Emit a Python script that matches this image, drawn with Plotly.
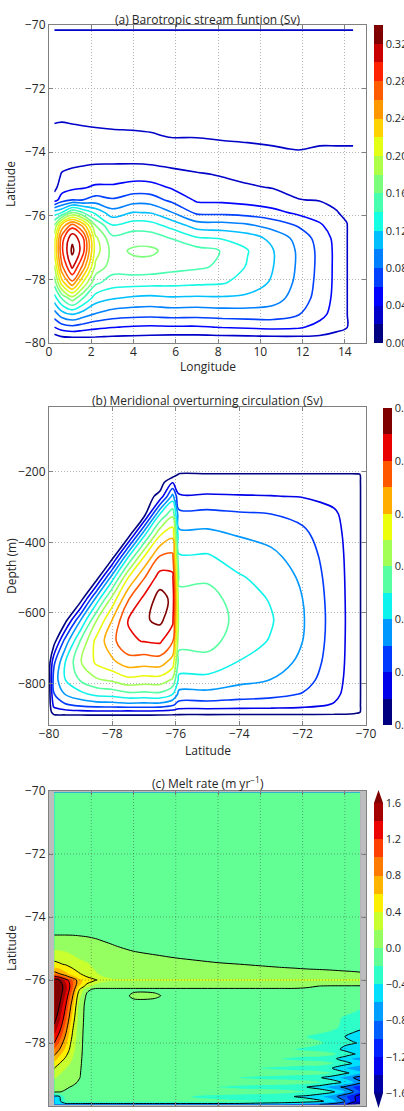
import plotly.graph_objects as go

# ------------------------------------------------------------------ data
LON_TICKS = [0, 2, 4, 6, 8, 10, 12, 14]
LAT_TICKS = [-80, -78, -76, -74, -72, -70]
DEPTH_TICKS = [-800, -600, -400, -200]
LON_RANGE = [0, 15]
LAT_RANGE = [-80, -70]
DEPTH_RANGE = [-917, -17]

TITLE_A = "(a) Barotropic stream funtion (Sv)"
TITLE_B = "(b) Meridional overturning circulation (Sv)"
TITLE_C = "(c) Melt rate (m yr<sup>\u22121</sup>)"

# (a) barotropic stream function (Sv), one list per longitude column
PSI_LON = [0.25, 0.6, 1.1, 1.6, 2.2, 3.0, 4.0, 4.8, 5.8, 7.0, 8.2, 9.4, 10.6, 11.8, 12.8, 13.6, 14.1, 14.4]
PSI_LAT = [-80.0, -79.8, -79.5, -79.1, -78.6, -78.1, -77.6, -77.1, -76.7, -76.3, -75.9,
           -75.5, -75.1, -74.7, -74.3, -73.9, -73.5, -73.0, -72.0, -71.0, -70.2, -70.0]
PSI_COLS = [
    [0, 0.013, 0.04, 0.07, 0.11, 0.148, 0.178, 0.2, 0.19, 0.16, 0.11, 0.03, 0.014, 0.013, 0.012, 0.012, 0.016, 0.021, 0.025, 0.025, 0.025, 0],
    [0, 0.02, 0.05, 0.09, 0.14, 0.21, 0.255, 0.275, 0.27, 0.225, 0.12, 0.05, 0.03, 0.021, 0.015, 0.0125, 0.016, 0.0205, 0.025, 0.025, 0.025, 0],
    [0, 0.022, 0.055, 0.1, 0.17, 0.255, 0.305, 0.325, 0.315, 0.27, 0.16, 0.06, 0.035, 0.024, 0.016, 0.013, 0.0165, 0.021, 0.025, 0.025, 0.025, 0],
    [0, 0.022, 0.05, 0.09, 0.14, 0.2, 0.255, 0.29, 0.285, 0.235, 0.14, 0.06, 0.038, 0.026, 0.017, 0.0135, 0.017, 0.0215, 0.025, 0.025, 0.025, 0],
    [0, 0.021, 0.045, 0.078, 0.11, 0.145, 0.175, 0.19, 0.185, 0.16, 0.115, 0.068, 0.043, 0.028, 0.018, 0.014, 0.0175, 0.022, 0.025, 0.025, 0.025, 0],
    [0, 0.019, 0.041, 0.07, 0.101, 0.13, 0.15, 0.153, 0.145, 0.121, 0.088, 0.062, 0.043, 0.029, 0.018, 0.0145, 0.018, 0.0225, 0.025, 0.025, 0.025, 0],
    [0, 0.018, 0.038, 0.067, 0.096, 0.128, 0.153, 0.163, 0.152, 0.13, 0.101, 0.071, 0.048, 0.031, 0.018, 0.0145, 0.0185, 0.0225, 0.025, 0.025, 0.025, 0],
    [0, 0.017, 0.037, 0.066, 0.094, 0.127, 0.152, 0.164, 0.151, 0.128, 0.099, 0.07, 0.047, 0.03, 0.017, 0.0145, 0.019, 0.023, 0.025, 0.025, 0.025, 0],
    [0, 0.016, 0.038, 0.068, 0.097, 0.126, 0.147, 0.153, 0.139, 0.113, 0.081, 0.055, 0.038, 0.024, 0.016, 0.0155, 0.0205, 0.0235, 0.025, 0.025, 0.025, 0],
    [0, 0.016, 0.038, 0.067, 0.096, 0.124, 0.143, 0.148, 0.122, 0.09, 0.056, 0.037, 0.028, 0.0215, 0.013, 0.016, 0.0205, 0.024, 0.025, 0.025, 0.025, 0],
    [0, 0.017, 0.041, 0.069, 0.097, 0.122, 0.137, 0.139, 0.118, 0.088, 0.055, 0.036, 0.024, 0.019, 0.013, 0.017, 0.0215, 0.025, 0.025, 0.025, 0.025, 0],
    [0, 0.018, 0.043, 0.07, 0.095, 0.112, 0.118, 0.121, 0.11, 0.083, 0.052, 0.033, 0.022, 0.015, 0.013, 0.018, 0.022, 0.025, 0.025, 0.025, 0.025, 0],
    [0, 0.019, 0.045, 0.07, 0.088, 0.097, 0.1005, 0.101, 0.094, 0.072, 0.046, 0.028, 0.019, 0.014, 0.014, 0.019, 0.023, 0.025, 0.025, 0.025, 0.025, 0],
    [0, 0.019, 0.043, 0.061, 0.071, 0.075, 0.077, 0.077, 0.073, 0.058, 0.036, 0.0205, 0.015, 0.013, 0.014, 0.0205, 0.023, 0.025, 0.025, 0.025, 0.025, 0],
    [0, 0.018, 0.034, 0.046, 0.052, 0.054, 0.055, 0.055, 0.052, 0.043, 0.03, 0.019, 0.014, 0.012, 0.013, 0.019, 0.023, 0.025, 0.025, 0.025, 0.025, 0],
    [0, 0.014, 0.026, 0.032, 0.034, 0.035, 0.035, 0.035, 0.034, 0.029, 0.021, 0.016, 0.013, 0.012, 0.013, 0.019, 0.023, 0.025, 0.025, 0.025, 0.025, 0],
    [0, 0.012, 0.021, 0.021, 0.021, 0.021, 0.021, 0.021, 0.021, 0.021, 0.016, 0.012, 0.011, 0.011, 0.013, 0.019, 0.023, 0.025, 0.025, 0.025, 0.025, 0],
    [0, 0, 0, 0, 0, 0, 0, 0, 0, 0, 0, 0, 0, 0, 0.012, 0.019, 0.023, 0.025, 0.025, 0.025, 0.025, 0],
]
PSI_LEVELS = dict(start=0.02, end=0.32, size=0.02)
PSI_BAR_RANGE = [0.0, 0.34]
PSI_BAR_STEP = 0.02
PSI_BAR_TICKS = [0.0, 0.04, 0.08, 0.12, 0.16, 0.20, 0.24, 0.28, 0.32]

# (b) meridional overturning circulation (Sv); O marks points outside the cavity
O = -0.005
MOC_LAT = [-80.0, -79.85, -79.5, -79.0, -78.5, -78.0, -77.5, -77.0, -76.5, -76.1,
           -75.9, -75.0, -74.0, -73.0, -72.0, -71.0, -70.5, -70.3, -70.2, -70.0]
MOC_DEPTH = [-917, -895, -880, -860, -830, -790, -740, -680, -620, -560,
             -500, -440, -380, -320, -270, -230, -208, -195, -17]
MOC_ROWS = [
    [O] * 20,
    [O] * 20,
    [O, 0.0048, 0.0063, 0.0072, 0.0076, 0.0075, 0.0072, 0.0076, 0.007, 0.0059, 0.005, 0.005, 0.0049, 0.0048, 0.0047, 0.0041, 0.0032, 0.0017, 0.0007, O],
    [O, 0.0125, 0.0185, 0.0228, 0.025, 0.0255, 0.0268, 0.0262, 0.0261, 0.0216, 0.016, 0.016, 0.0151, 0.0145, 0.013, 0.0093, 0.0056, 0.0022, 0.0007, O],
    [O, 0.0194, 0.030, 0.0372, 0.0426, 0.044, 0.0474, 0.0469, 0.0476, 0.040, 0.027, 0.027, 0.0246, 0.0229, 0.0194, 0.0122, 0.0065, 0.0024, 0.0008, O],
    [O, 0.024, 0.0395, 0.051, 0.0585, 0.0616, 0.067, 0.0654, 0.0655, 0.0583, 0.037, 0.037, 0.0327, 0.0298, 0.0241, 0.0138, 0.007, 0.0024, 0.0008, O],
    [O, 0.0178, 0.0395, 0.0594, 0.0718, 0.0779, 0.085, 0.0839, 0.0847, 0.0751, 0.046, 0.046, 0.0395, 0.0353, 0.0276, 0.0149, 0.0073, 0.0025, 0.0008, O],
    [O, O, 0.0237, 0.0513, 0.0733, 0.0871, 0.0989, 0.1003, 0.1015, 0.0907, 0.053, 0.054, 0.0445, 0.0393, 0.030, 0.0156, 0.0074, 0.0025, 0.0008, O],
    [O, O, O, 0.030, 0.0597, 0.0805, 0.1004, 0.1085, 0.1125, 0.1026, 0.056, 0.057, 0.0466, 0.0409, 0.0309, 0.0158, 0.0075, 0.0025, 0.0008, O],
    [O, O, O, O, 0.0342, 0.0638, 0.0891, 0.1025, 0.1143, 0.1075, 0.053, 0.055, 0.0445, 0.0393, 0.030, 0.0156, 0.0074, 0.0025, 0.0008, O],
    [O, O, O, O, O, 0.036, 0.070, 0.0894, 0.1044, 0.1026, 0.048, 0.048, 0.041, 0.0365, 0.0283, 0.0151, 0.0073, 0.0025, 0.0008, O],
    [O, O, O, O, O, O, 0.0391, 0.0698, 0.0905, 0.0923, 0.041, 0.041, 0.0357, 0.0323, 0.0257, 0.0144, 0.0071, 0.0024, 0.0008, O],
    [O, O, O, O, O, O, O, 0.0387, 0.0696, 0.0778, 0.033, 0.033, 0.0295, 0.0271, 0.0223, 0.0132, 0.0068, 0.0024, 0.0008, O],
    [O] * 8 + [0.040, 0.0572, 0.023, 0.023, 0.0212, 0.020, 0.0172, 0.0113, 0.0063, 0.0023, 0.0008, O],
    [O] * 8 + [0.003, 0.0335, 0.011, 0.011, 0.0106, 0.0103, 0.0095, 0.0073, 0.0048, 0.0021, 0.0008, O],
    [O] * 9 + [0.0092, 0.005, 0.005, 0.0049, 0.0048, 0.0047, 0.0041, 0.0032, 0.0017, 0.0007, O],
    [O] * 10 + [0.001, 0.001, 0.001, 0.001, 0.001, 0.001, 0.0009, 0.0007, 0.0004, O],
    [O] * 20,
    [O] * 20,
]
MOC_LEVELS = dict(start=0.0, end=0.11, size=0.01)
MOC_BAR_RANGE = [0.0, 0.12]
MOC_BAR_STEP = 0.01
MOC_BAR_TICKS = [0.0, 0.02, 0.04, 0.06, 0.08, 0.10, 0.12]

# (c) melt rate (m/yr); rows by latitude, columns by longitude
MELT_LON = [0.25, 0.5, 0.8, 1.1, 1.4, 1.8, 2.2, 2.6, 3.0, 3.4, 4.0, 5.0, 6.0,
            7.0, 8.0, 9.0, 10.0, 11.0, 11.6, 12.2, 12.8, 13.4, 14.0, 14.4, 14.72]
MELT_LAT = [-79.95, -79.85, -79.7, -79.55, -79.4, -79.25, -79.1, -78.95, -78.8, -78.65,
            -78.5, -78.35, -78.2, -78.0, -77.8, -77.5, -77.2, -76.8, -76.5, -76.3,
            -76.2, -76.1, -76.0, -75.9, -75.8, -75.5, -75.2, -74.9, -74.6, -74.3,
            -73.5, -72.0, -70.05]
MELT_ROWS = [
    [-0.5] * 9 + [-0.5] * 4 + [-0.5, -0.5, -0.5, -0.55, -0.6, -0.65, -0.7, -0.8, -0.9, -1.1, -1.5, -1.8],
    [-0.5, -0.45, -0.15, -0.15, -0.15, -0.15, -0.15, -0.15, -0.15] + [-0.15] * 4 + [-0.15, -0.15, -0.18, -0.2, -0.22, -0.25, -0.3, -0.35, -0.5, -0.8, -1.1, -1.4],
    [-0.45, -0.42, -0.1, -0.1, -0.1, -0.1, -0.1, -0.1, -0.1] + [-0.1, -0.1, -0.1, -0.14] + [-0.22, -0.25, -0.28, -0.3, -0.34, -0.4, -0.45, -0.55, -0.7, -0.95, -1.15, -1.35],
    [0.02, 0.01, -0.03, -0.06, -0.1, -0.1, -0.1, -0.1, -0.1] + [-0.1] * 4 + [-0.1, -0.1, -0.1, -0.1, -0.12, -0.15, -0.2, -0.25, -0.35, -0.6, -0.8, -1.0],
    [0.1, 0.07, 0.03, -0.02, -0.08, -0.1, -0.1, -0.1, -0.1] + [-0.1] * 4 + [-0.12, -0.2, -0.24, -0.27, -0.3, -0.33, -0.4, -0.5, -0.7, -0.85, -1.0, -1.1],
    [0.16, 0.12, 0.09, 0.06, -0.02, -0.1, -0.1, -0.1, -0.1] + [-0.1] * 4 + [-0.1] * 6 + [-0.12, -0.18, -0.28, -0.45, -0.6, -0.75],
    [0.22, 0.16, 0.12, 0.09, 0.02, -0.1, -0.1, -0.1, -0.1] + [-0.1] * 4 + [-0.1, -0.12, -0.2, -0.24, -0.27, -0.3, -0.33, -0.38, -0.5, -0.65, -0.8, -0.9],
    [0.3, 0.22, 0.15, 0.11, 0.03, -0.1, -0.1, -0.1, -0.1] + [-0.1] * 4 + [-0.1] * 7 + [-0.12, -0.2, -0.35, -0.45, -0.55],
    [0.4, 0.3, 0.2, 0.13, 0.04, -0.1, -0.1, -0.1, -0.1] + [-0.1] * 4 + [-0.1, -0.1, -0.12, -0.2, -0.24, -0.27, -0.3, -0.33, -0.4, -0.58, -0.68, -0.72],
    [0.55, 0.4, 0.28, 0.16, 0.05, -0.1, -0.1, -0.1, -0.1] + [-0.1] * 4 + [-0.1] * 8 + [-0.18, -0.32, -0.42, -0.5],
    [0.7, 0.52, 0.36, 0.2, 0.06, -0.1, -0.1, -0.1, -0.1] + [-0.1] * 4 + [-0.1, -0.1, -0.1, -0.12, -0.2, -0.24, -0.27, -0.3, -0.35, -0.5, -0.62, -0.65],
    [0.85, 0.66, 0.45, 0.24, 0.07, -0.1, -0.1, -0.1, -0.1] + [-0.1] * 4 + [-0.1] * 8 + [-0.15, -0.3, -0.38, -0.45],
    [1.0, 0.8, 0.55, 0.28, 0.08, -0.1, -0.1, -0.1, -0.1] + [-0.1] * 4 + [-0.1] * 4 + [-0.12, -0.2, -0.24, -0.27, -0.32, -0.45, -0.55, -0.6],
    [1.2, 0.95, 0.65, 0.32, 0.09, -0.1, -0.1, -0.1, -0.1] + [-0.1] * 4 + [-0.1] * 6 + [-0.12, -0.18, -0.24, -0.36, -0.38, -0.42],
    [1.35, 1.1, 0.75, 0.38, 0.1, -0.1, -0.1, -0.1, -0.1] + [-0.1] * 4 + [-0.1] * 5 + [-0.12, -0.2, -0.24, -0.28, -0.4, -0.48, -0.52],
    [1.55, 1.3, 0.9, 0.45, 0.12, -0.1, -0.1, -0.1, -0.1] + [-0.1] * 4 + [-0.1] * 7 + [-0.12, -0.16, -0.24, -0.3, -0.35],
    [1.7, 1.45, 1.05, 0.55, 0.15, -0.1, -0.1, -0.1, -0.1] + [-0.1] * 4 + [-0.1] * 8 + [-0.15, -0.22, -0.26, -0.3],
    [1.8, 1.6, 1.2, 0.7, 0.2, -0.1, -0.1, -0.1, -0.1] + [-0.1] * 4 + [-0.1] * 10 + [-0.12, -0.15],
    [1.85, 1.7, 1.35, 0.85, 0.3, -0.05, -0.1, -0.1, -0.1] + [-0.1, 0.05, 0.04, -0.1] + [-0.1] * 12,
    [1.9, 1.75, 1.45, 1.0, 0.45, 0.05, -0.05, -0.05, -0.05] + [-0.05] * 4 + [-0.05] * 12,
    [1.9, 1.75, 1.45, 1.05, 0.6, 0.3, 0.12, 0.1, 0.1] + [0.1] * 4 + [0.1, 0.1, 0.1, 0.1, 0.1, 0.1, 0.04, -0.01, -0.02, -0.02, -0.02, -0.02],
    [1.85, 1.7, 1.4, 1.05, 0.7, 0.42, 0.25, 0.12, 0.1] + [0.1] * 4 + [0.1] * 12,
    [1.75, 1.6, 1.3, 1.0, 0.7, 0.45, 0.42, 0.3, 0.25] + [0.25] * 4 + [0.25] * 12,
    [1.3, 1.15, 0.9, 0.7, 0.5, 0.4, 0.3, 0.2, 0.12] + [0.1] * 4 + [0.1] * 12,
    [0.9, 0.8, 0.65, 0.5, 0.42, 0.33, 0.22, 0.15, 0.1] + [0.1] * 4 + [0.1] * 7 + [0.08, 0.06, 0.04, 0.03, 0.02],
    [0.45, 0.42, 0.38, 0.33, 0.28, 0.22, 0.15, 0.1, 0.1] + [0.1] * 4 + [0.07, 0.02, 0.001, -0.02, -0.05, -0.07, -0.1, -0.1, -0.1, -0.1, -0.1, -0.1],
    [0.3, 0.28, 0.25, 0.2, 0.15, 0.12, 0.1, 0.1, 0.1] + [0.1, 0.06, 0.001, -0.05] + [-0.1] * 12,
    [0.1, 0.1, 0.1, 0.1, 0.1, 0.1, 0.1, 0.07, 0.01] + [-0.03, -0.1, -0.1, -0.1] + [-0.1] * 12,
    [0.01, 0.01, 0.01, 0.008, 0.002, -0.01, -0.04, -0.1, -0.1] + [-0.1] * 4 + [-0.1] * 12,
    [-0.1] * 25,
    [-0.1] * 25,
    [-0.1] * 25,
    [-0.1] * 25,
]
MELT_FILL_LEVELS = dict(start=-1.6, end=1.6, size=0.2)
MELT_LINE_LEVELS = dict(start=-1.2, end=1.6, size=0.4)
MELT_BAR_TICKS = [-1.6, -1.2, -0.8, -0.4, 0.0, 0.4, 0.8, 1.2, 1.6]

assert all(len(c) == len(PSI_LAT) for c in PSI_COLS) and len(PSI_COLS) == len(PSI_LON)
assert all(len(r) == len(MOC_LAT) for r in MOC_ROWS) and len(MOC_ROWS) == len(MOC_DEPTH)
assert all(len(r) == len(MELT_LON) for r in MELT_ROWS) and len(MELT_ROWS) == len(MELT_LAT)

# ------------------------------------------------------------------ colours
JET_R = [(0.0, 0.0), (0.35, 0.0), (0.66, 1.0), (0.89, 1.0), (1.0, 0.5)]
JET_G = [(0.0, 0.0), (0.125, 0.0), (0.375, 1.0), (0.64, 1.0), (0.91, 0.0), (1.0, 0.0)]
JET_B = [(0.0, 0.5), (0.11, 1.0), (0.34, 1.0), (0.65, 0.0), (1.0, 0.0)]


def _seg(pts, x):
    for (x0, y0), (x1, y1) in zip(pts[:-1], pts[1:]):
        if x <= x1:
            return y0 + (y1 - y0) * (x - x0) / (x1 - x0)
    return pts[-1][1]


def jet(x):
    x = min(max(x, 0.0), 1.0)
    return "rgb(%d,%d,%d)" % tuple(round(255 * _seg(s, x)) for s in (JET_R, JET_G, JET_B))


def band_scale(edges, colors):
    lo, hi = edges[0], edges[-1]
    cs = []
    for a, b, c in zip(edges[:-1], edges[1:], colors):
        cs.append([(a - lo) / (hi - lo), c])
        cs.append([(b - lo) / (hi - lo), c])
    cs[-1][0] = 1.0
    return cs


def even_edges(lo, hi, step):
    n = int(round((hi - lo) / step))
    return [lo + k * step for k in range(n + 1)]


# (a) line colours: level L -> jet(L / 0.32)
psi_line_scale = []
for i in range(33):
    p = i / 32
    lev = PSI_LEVELS["start"] + p * (PSI_LEVELS["end"] - PSI_LEVELS["start"])
    psi_line_scale.append([p, jet(lev / PSI_LEVELS["end"])])
psi_edges = even_edges(PSI_BAR_RANGE[0], PSI_BAR_RANGE[1], PSI_BAR_STEP)
psi_bar_scale = band_scale(psi_edges, [jet(k / (len(psi_edges) - 2)) for k in range(len(psi_edges) - 1)])

# (b)
moc_line_scale = [[i / 32, jet(i / 32)] for i in range(33)]
moc_edges = even_edges(MOC_BAR_RANGE[0], MOC_BAR_RANGE[1], MOC_BAR_STEP)
moc_bar_scale = band_scale(moc_edges, [jet(k / (len(moc_edges) - 2)) for k in range(len(moc_edges) - 1)])

# (c) filled bands: band [a, a+0.2] coloured at its centre, extensions at the ends
s0, s1, ds = MELT_FILL_LEVELS["start"], MELT_FILL_LEVELS["end"], MELT_FILL_LEVELS["size"]
nlev = int(round((s1 - s0) / ds)) + 1
melt_fill_scale = []
for k in range(nlev + 1):
    v = s0 - ds / 2 + k * ds
    melt_fill_scale.append([k / nlev, jet((v - s0) / (s1 - s0))])
melt_edges = even_edges(s0, s1, ds)
melt_colors = [jet((0.5 * (a + b) - s0) / (s1 - s0)) for a, b in zip(melt_edges[:-1], melt_edges[1:])]
melt_bar_scale = band_scale(melt_edges, melt_colors)

# ------------------------------------------------------------------ layout helpers
W_PX, H_PX = 404, 1111


def fx(p):
    return p / W_PX


def fy(p):
    return 1 - p / H_PX


PLOT_L, PLOT_R = 49, 366
PANEL_A = (25, 343)
PANEL_B = (407, 725)
PANEL_C = (791, 1106)
TEXT = "#262626"
FRAME = "#808080"
FS = 12      # axis / title text
FS_BAR = 11  # colour-bar labels

axis_common = dict(
    showline=True, linecolor=FRAME, linewidth=1, mirror="ticks",
    ticks="inside", ticklen=4, tickcolor=FRAME,
    showgrid=True, gridcolor="#b4b4b4", griddash="1px,2px", gridwidth=1,
    zeroline=False, tickfont=dict(size=FS, color=TEXT), automargin=False,
)
xaxis_close = dict(axis_common, ticklabelstandoff=-2)

fig = go.Figure()

# (a)
psi_z = [list(r) for r in zip(*PSI_COLS)]
fig.add_trace(go.Contour(
    x=PSI_LON, y=PSI_LAT, z=psi_z, xaxis="x", yaxis="y",
    autocontour=False, contours=dict(coloring="lines", **PSI_LEVELS),
    colorscale=psi_line_scale, showscale=False,
    line=dict(width=1.6, smoothing=1.0), hoverinfo="skip",
))


def bar_trace(xa, ya, lo, hi, scale, ticks, fmt, x_px, top, bot):
    return go.Scatter(
        x=[None], y=[None], xaxis=xa, yaxis=ya, mode="markers",
        showlegend=False, hoverinfo="skip",
        marker=dict(color=[lo], cmin=lo, cmax=hi, colorscale=scale, showscale=True,
                    colorbar=dict(x=fx(x_px), xanchor="left", xpad=0,
                                  y=fy((top + bot) / 2), yanchor="middle", ypad=0,
                                  len=(bot - top) / H_PX, lenmode="fraction",
                                  thickness=9, thicknessmode="pixels", outlinewidth=0,
                                  tickvals=ticks, tickformat=fmt, ticks="",
                                  tickfont=dict(size=FS_BAR, color=TEXT))),
    )


fig.add_trace(bar_trace("x", "y", PSI_BAR_RANGE[0], PSI_BAR_RANGE[1], psi_bar_scale,
                        PSI_BAR_TICKS, ".2f", 374, PANEL_A[0], PANEL_A[1]))

# (b)
fig.add_trace(go.Contour(
    x=MOC_LAT, y=MOC_DEPTH, z=MOC_ROWS, xaxis="x2", yaxis="y2",
    autocontour=False, contours=dict(coloring="lines", **MOC_LEVELS),
    colorscale=moc_line_scale, showscale=False,
    line=dict(width=1.6, smoothing=1.0), hoverinfo="skip",
))
fig.add_trace(bar_trace("x2", "y2", MOC_BAR_RANGE[0], MOC_BAR_RANGE[1], moc_bar_scale,
                        MOC_BAR_TICKS, ".2f", 383, PANEL_B[0] + 1, PANEL_B[1]))

# (c)
fig.add_trace(go.Contour(
    x=MELT_LON, y=MELT_LAT, z=MELT_ROWS, xaxis="x3", yaxis="y3",
    autocontour=False, contours=dict(coloring="fill", showlines=False, **MELT_FILL_LEVELS),
    colorscale=melt_fill_scale, showscale=False,
    line=dict(width=0, smoothing=0.8), hoverinfo="skip",
))
fig.add_trace(go.Contour(
    x=MELT_LON, y=MELT_LAT, z=MELT_ROWS, xaxis="x3", yaxis="y3",
    autocontour=False, contours=dict(coloring="none", **MELT_LINE_LEVELS),
    showscale=False, line=dict(width=1, color="black", smoothing=0.8), hoverinfo="skip",
))
CB_C_TOP, CB_C_BOT, CB_C_X = 803, 1093, 374
fig.add_trace(bar_trace("x3", "y3", melt_edges[0], melt_edges[-1], melt_bar_scale,
                        MELT_BAR_TICKS, ".1f", CB_C_X, CB_C_TOP, CB_C_BOT))

xdom = [fx(PLOT_L), fx(PLOT_R)]
fig.update_layout(
    width=W_PX, height=H_PX, template="none",
    margin=dict(l=0, r=0, t=0, b=0, pad=0, autoexpand=False),
    paper_bgcolor="white", plot_bgcolor="white",
    font=dict(family="Open Sans", size=FS, color=TEXT),
    showlegend=False,
    xaxis=dict(domain=xdom, anchor="y", range=LON_RANGE, tickvals=LON_TICKS, **xaxis_close),
    yaxis=dict(domain=[fy(PANEL_A[1]), fy(PANEL_A[0])], anchor="x", range=LAT_RANGE,
               tickvals=LAT_TICKS, **axis_common),
    xaxis2=dict(domain=xdom, anchor="y2", range=LAT_RANGE, tickvals=LAT_TICKS, **xaxis_close),
    yaxis2=dict(domain=[fy(PANEL_B[1]), fy(PANEL_B[0])], anchor="x2", range=DEPTH_RANGE,
                tickvals=DEPTH_TICKS, **axis_common),
    xaxis3=dict(domain=xdom, anchor="y3", range=LON_RANGE, tickvals=LON_TICKS, **axis_common),
    yaxis3=dict(domain=[fy(PANEL_C[1]), fy(PANEL_C[0])], anchor="x3", range=LAT_RANGE,
                tickvals=LAT_TICKS, **axis_common),
)

# grey masked background of panel (c) and its dotted grid drawn over the fill
shapes = [dict(type="rect", xref="x3 domain", yref="y3 domain", x0=0, x1=1, y0=0, y1=1,
               fillcolor="#bdbdbd", line=dict(width=0), layer="below")]
grid_line = dict(color="rgba(60,60,60,0.45)", width=1, dash="1px,2px")
for v in LON_TICKS[1:]:
    shapes.append(dict(type="line", xref="x3", yref="y3 domain", x0=v, x1=v, y0=0, y1=1,
                       line=grid_line, layer="above"))
for v in LAT_TICKS[1:-1]:
    shapes.append(dict(type="line", xref="x3 domain", yref="y3", x0=0, x1=1, y0=v, y1=v,
                       line=grid_line, layer="above"))
# extension triangles of the melt-rate colour bar
cx0, cx1 = fx(CB_C_X), fx(CB_C_X + 9)
cxm = fx(CB_C_X + 4.5)
shapes.append(dict(type="path", xref="paper", yref="paper",
                   path="M %f %f L %f %f L %f %f Z" % (cx0, fy(CB_C_TOP), cx1, fy(CB_C_TOP), cxm, fy(CB_C_TOP - 13)),
                   fillcolor=jet(1.0), line=dict(width=0)))
shapes.append(dict(type="path", xref="paper", yref="paper",
                   path="M %f %f L %f %f L %f %f Z" % (cx0, fy(CB_C_BOT), cx1, fy(CB_C_BOT), cxm, fy(CB_C_BOT + 15)),
                   fillcolor=jet(0.0), line=dict(width=0)))
fig.update_layout(shapes=shapes)

ann = []
for text, yp in ((TITLE_A, 19), (TITLE_B, 400), (TITLE_C, 783)):
    ann.append(dict(text=text, x=fx(207.5), y=fy(yp), xref="paper", yref="paper",
                    showarrow=False, xanchor="center", yanchor="middle", font=dict(size=FS, color=TEXT)))
for text, yp in (("Longitude", 367), ("Latitude", 750)):
    ann.append(dict(text=text, x=fx(207.5), y=fy(yp), xref="paper", yref="paper",
                    showarrow=False, xanchor="center", yanchor="middle", font=dict(size=FS, color=TEXT)))
for text, yp in (("Latitude", 184), ("Depth (m)", 566), ("Latitude", 948)):
    ann.append(dict(text=text, x=fx(11), y=fy(yp), xref="paper", yref="paper", textangle=-90,
                    showarrow=False, xanchor="center", yanchor="middle", font=dict(size=FS, color=TEXT)))
fig.update_layout(annotations=ann)

fig.write_html("out.html", config={"displayModeBar": False})
